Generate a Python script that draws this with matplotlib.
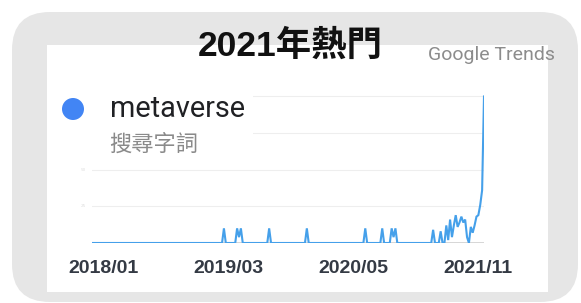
import numpy as np
import matplotlib.pyplot as plt
from matplotlib.patches import FancyBboxPatch, Rectangle, Circle

# Weekly search interest for "metaverse", 2018/01 - 2021/12
interest = [
    0, 0, 0, 0, 0, 0, 0, 0, 0, 0, 0, 0, 0, 0, 0, 0, 0, 0, 0, 0,
    0, 0, 0, 0, 0, 0, 0, 0, 0, 0, 0, 0, 0, 0, 0, 0, 0, 0, 0, 0,
    0, 0, 0, 0, 0, 0, 0, 0, 0, 0, 0, 0, 0, 0, 0, 0, 0, 0, 0, 0,
    0, 0, 0, 0, 0, 0, 0, 0, 0, 0, 10, 0, 0, 0, 0, 0, 0, 10, 4, 10,
    0, 0, 0, 0, 0, 0, 0, 0, 0, 0, 0, 0, 0, 0, 10, 0, 0, 0, 0, 0,
    0, 0, 0, 0, 0, 0, 0, 0, 0, 0, 0, 0, 0, 0, 10, 0, 0, 0, 0, 0,
    0, 0, 0, 0, 0, 0, 0, 0, 0, 0, 0, 0, 0, 0, 0, 0, 0, 0, 0, 0,
    0, 0, 0, 0, 0, 10, 0, 0, 0, 0, 0, 0, 0, 0, 10, 0, 0, 0, 0, 10,
    4, 10, 0, 0, 0, 0, 0, 0, 0, 0, 0, 0, 0, 0, 0, 0, 0, 0, 0, 0,
    0, 9, 0, 0, 0, 8, 0, 0, 12, 2, 16, 4, 12, 19, 11, 14, 18, 14, 16, 4,
    0, 11, 7, 12, 18, 19, 26, 36, 100,
]
tick_labels = ['2018/01', '2019/03', '2020/05', '2021/11']
grid_levels = [25, 50, 75, 100]

title = '2021年熱門'
term = 'metaverse'
term_sub = '搜尋字詞'

W, H = 581, 303
fig = plt.figure(figsize=(W / 100, H / 100), dpi=100)
fig.patch.set_facecolor('white')

# background frame, in pixel coords
bg = fig.add_axes([0, 0, 1, 1], zorder=0)
bg.set_xlim(0, W)
bg.set_ylim(H, 0)
bg.axis('off')
bg.add_patch(FancyBboxPatch((12, 12), 566, 290, boxstyle='round,pad=0,rounding_size=38',
                            fc='#e6e6e6', ec='none'))
bg.add_patch(Rectangle((47, 45), 501, 247, fc='white', ec='none'))

# chart area
ax = fig.add_axes([92 / W, (H - 243) / H, 392 / W, 148 / H], zorder=1)
ax.patch.set_alpha(0)
x = np.arange(len(interest))
ax.axhline(0, color='#d0d0d0', lw=1.2, zorder=1)
for g in grid_levels:
    ax.axhline(g, color='#eeeeee', lw=0.8, zorder=0)
ax.plot(x, interest, color='#45a0ea', lw=1.5, zorder=2, solid_joinstyle='miter')
ax.set_xlim(0, len(interest) - 1)
ax.set_ylim(0, 101)
for s in ax.spines.values():
    s.set_visible(False)
ax.set_yticks([])
ax.set_xticks(np.linspace(6, 205, len(tick_labels)))
ax.set_xticklabels(tick_labels, fontsize=14, fontweight='bold', color='#343a44',
                   family='Liberation Sans')
ax.tick_params(axis='x', length=0, pad=12)
for g in grid_levels[:2]:
    ax.text(-3, g, str(g), fontsize=3, color='#dddddd', ha='right', va='center')

# overlay texts
top = fig.add_axes([0, 0, 1, 1], zorder=2)
top.set_xlim(0, W)
top.set_ylim(H, 0)
top.axis('off')
top.add_patch(Rectangle((50, 82), 203, 80, fc='white', ec='none'))
top.add_patch(Circle((73, 109), 11, fc='#4285f4', ec='none'))
top.text(110, 109, term, fontsize=20.8, color='#202124', family='Roboto', va='center')
top.text(109, 144, term_sub, fontsize=16, color='#8a8a8a', family='Noto Sans CJK TC',
         va='center')
top.text(290, 46, title, fontsize=25.5, fontweight='bold', color='#111111',
         family=['Liberation Sans', 'Noto Sans CJK TC'], ha='center', va='center')
top.text(491, 55, 'Google Trends', fontsize=14, color='#8c8c8c', family='Roboto',
         ha='center', va='center')

fig.savefig('out.png', dpi=100)
